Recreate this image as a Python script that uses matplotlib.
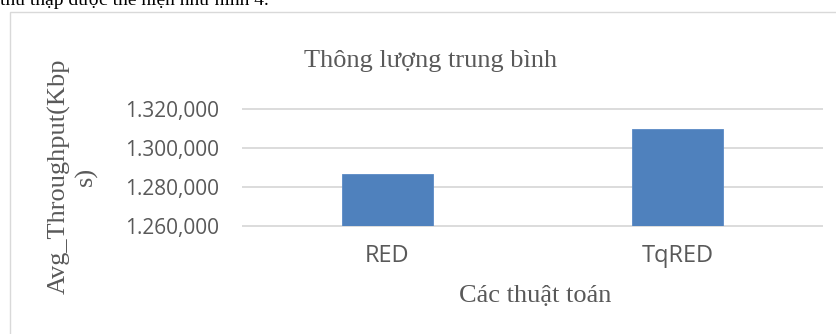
import matplotlib
matplotlib.use("Agg")
import matplotlib.pyplot as plt
from matplotlib.patches import Rectangle

# data
categories = ["RED", "TqRED"]
throughput = [1286800, 1309800]
ytick_values = [1260000, 1280000, 1300000, 1320000]
ytick_labels = ["1.260,000", "1.280,000", "1.300,000", "1.320,000"]

title = "Thông lượng trung bình"
xlabel = "Các thuật toán"
ylabel = "Avg_Throughput(Kbp\ns)"
doc_line = "thu thập được thể hiện như hình 4."

W, H = 837, 334
fig = plt.figure(figsize=(W / 100, H / 100), dpi=100)

# chart frame (extends off the right/bottom edge)
frame = Rectangle((10.5 / W, -0.2), 1.2, 1.2 - 11.5 / H + 0.0, transform=fig.transFigure,
                  fill=False, edgecolor="#d9d9d9", lw=1.0)
frame.set_height(1 - 11.5 / H + 0.2)
fig.add_artist(frame)

# clipped line of document text above the chart
fig.text(0 / W, 1 - 5 / H, doc_line, fontsize=14, family="Liberation Serif",
         color="black", va="baseline", ha="left")

ax = fig.add_axes([242 / W, (H - 226) / H, 581 / W, 117 / H])
x = range(len(categories))
ax.hlines(ytick_values, -0.5, 1.5, colors="#d9d9d9", lw=1.3, zorder=0, clip_on=False)
ax.bar(x, throughput, width=0.313, color="#4f81bd", edgecolor="#5a8ac6", lw=0.6, zorder=2)

ax.set_xlim(-0.5, 1.5)
ax.set_ylim(ytick_values[0], ytick_values[-1])
ax.set_yticks(ytick_values)
ax.set_yticklabels(ytick_labels, family="Open Sans", fontsize=15, color="#595959")
ax.set_xticks(list(x))
ax.set_xticklabels(categories, family="Open Sans", fontsize=17, color="#595959")
ax.tick_params(axis="y", length=0, pad=16.5)
ax.tick_params(axis="x", length=0, pad=13)
for s in ax.spines.values():
    s.set_visible(False)

fig.text(430.5 / W, 1 - 67 / H, title, fontsize=19, family="Liberation Serif",
         color="#595959", ha="center", va="baseline")
fig.text(535 / W, 1 - 302 / H, xlabel, fontsize=19, family="Liberation Serif",
         color="#595959", ha="center", va="baseline")
fig.text(73 / W, 1 - 176 / H, ylabel, fontsize=19, family="Liberation Serif",
         color="#595959", ha="center", va="center", rotation=90, multialignment="center")

fig.savefig("out.png", dpi=100)
